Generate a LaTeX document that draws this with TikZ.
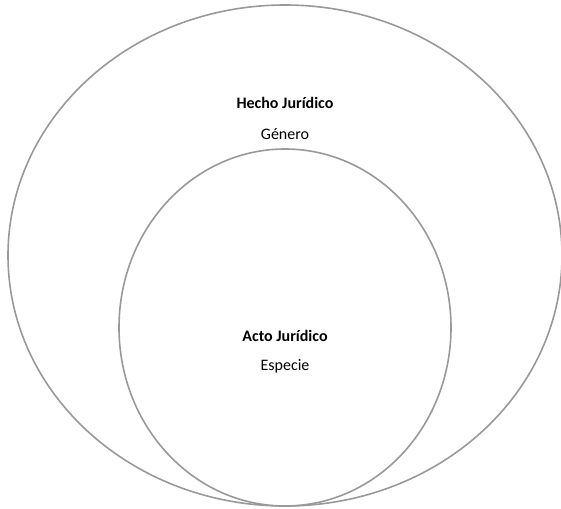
\documentclass[tikz,border=0pt]{standalone}
\usepackage{fontspec}
\setmainfont{Carlito}
\usepackage{tikz}

\tikzset{
    circ/.style={draw=black!40, line width=1.6pt},
    title/.style={font=\fontsize{16}{19}\selectfont\bfseries},
    sub/.style={font=\fontsize{16}{19}\selectfont}
}

\begin{document}
\begin{tikzpicture}[x=1pt, y=-1pt]
    \useasboundingbox (0,0) rectangle (561,508);
    \clip (0,0) rectangle (561,508);

    % Outer set
    \draw[circ] (285,255.5) ellipse [x radius=277, y radius=250.5];
    \node[title] (hecho) at (285,103) {Hecho Jurídico};
    \node[sub] (genero) at (285,134) {Género};

    % Inner set
    \draw[circ] (285,327.5) ellipse [x radius=166, y radius=178.5];
    \node[title] (acto) at (285,336) {Acto Jurídico};
    \node[sub] (especie) at (285,366) {Especie};
\end{tikzpicture}
\end{document}
